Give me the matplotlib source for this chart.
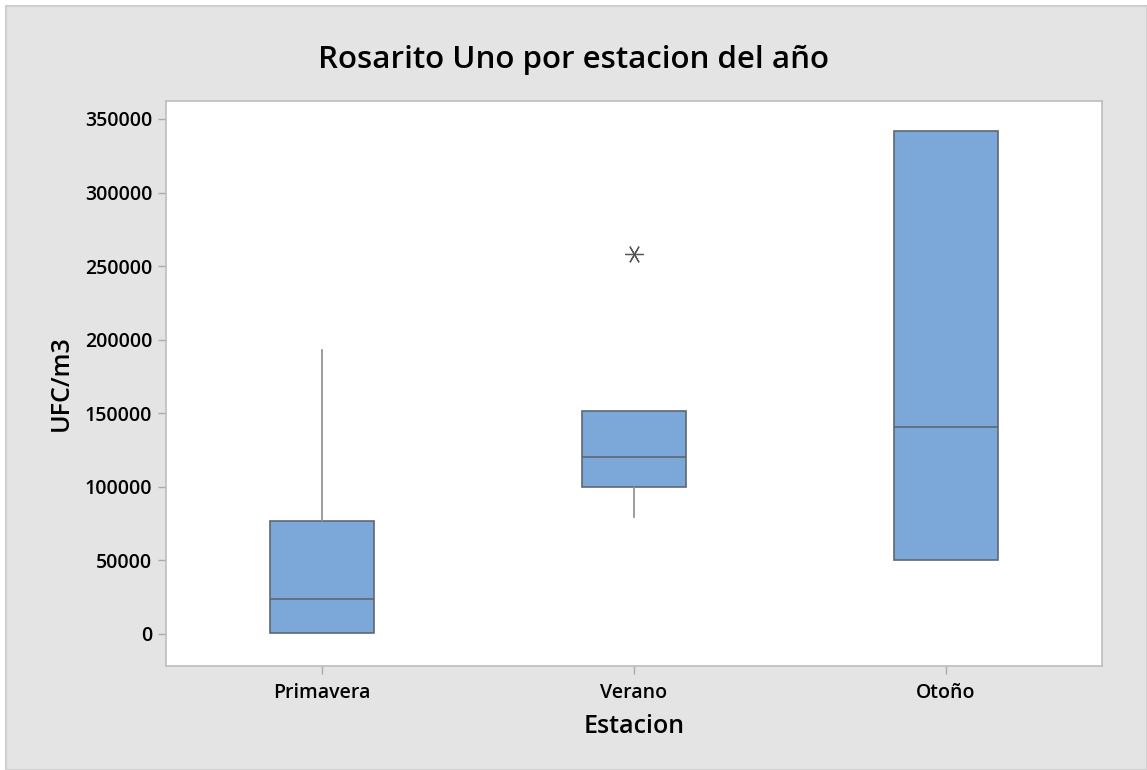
import matplotlib.pyplot as plt
from matplotlib.patches import Rectangle

# valores
estaciones = ['Primavera', 'Verano', 'Otoño']
bigote_inf = [500, 79700, 50100]
q1 = [500, 100100, 50100]
mediana = [24000, 120500, 140900]
q3 = [77000, 151800, 341800]
bigote_sup = [193000, 151800, 341800]
atipicos = [[], [258200], []]

yticks = [0, 50000, 100000, 150000, 200000, 250000, 300000, 350000]

plt.rcParams['font.family'] = ['Open Sans', 'DejaVu Sans']

fig = plt.figure(figsize=(11.47, 7.70), dpi=100, facecolor='white')
fig.patches.append(Rectangle((6 / 1147, 0), 1 - 6 / 1147, 1 - 6 / 770,
                             transform=fig.transFigure, facecolor='#e4e4e4',
                             edgecolor='#cfcfcf', linewidth=1.5, zorder=-10))

ax = fig.add_axes([166 / 1147, 1 - 666 / 770, (1102 - 166) / 1147, (666 - 101) / 770])

stats = []
for i in range(len(estaciones)):
    stats.append({'label': estaciones[i], 'whislo': bigote_inf[i], 'q1': q1[i],
                  'med': mediana[i], 'q3': q3[i], 'whishi': bigote_sup[i],
                  'fliers': atipicos[i]})

ax.bxp(stats, positions=[1, 2, 3], widths=0.333, patch_artist=True, showcaps=False,
       boxprops=dict(facecolor='#7ba7d9', edgecolor='#5d6773', linewidth=1.2),
       medianprops=dict(color='#5d6773', linewidth=1.2),
       whiskerprops=dict(color='#8a8a8a', linewidth=1.2),
       flierprops=dict(marker=(6, 2, 90), markersize=13, markeredgecolor='#555555',
                       markeredgewidth=0.9))

ax.set_xlim(0.5, 3.5)
ax.set_ylim(-21750, 362200)
ax.set_yticks(yticks)
ax.set_yticklabels([str(v) for v in yticks])

for s in ax.spines.values():
    s.set_color('#bdbdbd')
    s.set_linewidth(1.2)
ax.tick_params(axis='both', color='#aaaaaa', length=6, width=1, labelsize=14)
ax.tick_params(axis='y', pad=4)
ax.tick_params(axis='x', pad=6)
for lab in ax.get_xticklabels() + ax.get_yticklabels():
    lab.set_fontweight('semibold')

ax.set_xlabel('Estacion', fontsize=18, fontweight='semibold', labelpad=8)
ax.set_ylabel('UFC/m3', fontsize=18, fontweight='semibold', labelpad=8)
fig.text(0.5, 1 - 60 / 770, 'Rosarito Uno por estacion del año', ha='center', va='center',
         fontsize=22.5, fontweight='semibold')

fig.savefig('out.png', dpi=100, facecolor=fig.get_facecolor())
